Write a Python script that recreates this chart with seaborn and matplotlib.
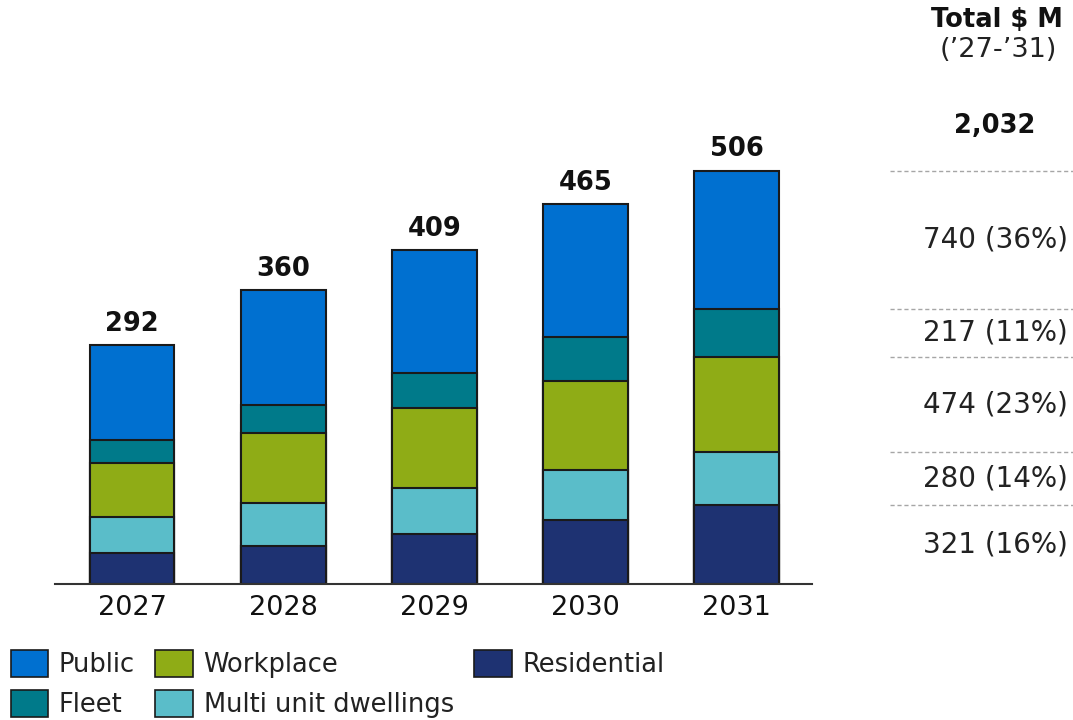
import matplotlib
matplotlib.use("Agg")
import matplotlib.pyplot as plt
import matplotlib.transforms as mtransforms
from matplotlib.patches import Patch
import numpy as np
import pandas as pd
import seaborn as sns

# Annual spend by charger segment, $ M
years = ["2027", "2028", "2029", "2030", "2031"]
categories = ["Public", "Fleet", "Workplace", "Multi unit dwellings", "Residential"]
public = [116, 141, 151, 163, 169]
fleet = [28, 34, 42, 54, 59]
workplace = [66, 86, 98, 108, 116]
multi_unit = [44, 52, 57, 62, 65]
residential = [38, 47, 61, 78, 97]

colors = {
    "Public": "#0070D0",
    "Fleet": "#007A8A",
    "Workplace": "#8FAC16",
    "Multi unit dwellings": "#5ABDC9",
    "Residential": "#1E3272",
}

sns.set_theme(style="white")
plt.rcParams["font.family"] = ["DejaVu Sans"]

df = pd.DataFrame({
    "year": years,
    "Public": public,
    "Fleet": fleet,
    "Workplace": workplace,
    "Multi unit dwellings": multi_unit,
    "Residential": residential,
})

# Stack order from bottom to top
stack_order = ["Residential", "Multi unit dwellings", "Workplace", "Fleet", "Public"]
cum = df[stack_order].cumsum(axis=1)
df["total"] = df[categories].sum(axis=1)

fig = plt.figure(figsize=(10.73, 7.2), dpi=100)
ax = fig.add_axes([0.0513, 0.1889, 0.7055, 0.658])

# Draw cumulative heights from the tallest down so each layer shows as a segment
for cat in reversed(stack_order):
    sns.barplot(
        x=df["year"], y=cum[cat], order=years, color=colors[cat],
        width=0.56, edgecolor="#1a1a1a", linewidth=1.5, saturation=1,
        errorbar=None, ax=ax,
    )

# Year totals above the bars
for i, tot in enumerate(df["total"]):
    ax.annotate(f"{tot:,}", (i, tot), xytext=(0, 6), textcoords="offset points",
                ha="center", va="bottom", fontsize=18.5, fontweight="bold",
                color="#111111")

ax.set_xlim(-0.51, 4.5)
ax.set_ylim(0, 580)
ax.set_xlabel("")
ax.set_ylabel("")
ax.set_yticks([])
ax.tick_params(axis="x", length=0, labelsize=19.5, pad=8, colors="#111111")
for side in ["left", "right", "top"]:
    ax.spines[side].set_visible(False)
ax.spines["bottom"].set_color("#333333")
ax.spines["bottom"].set_linewidth(1.5)

# Five-year totals column, aligned with the 2031 segments
last = cum.iloc[-1]
grand_total = int(df["total"].sum())
trans = mtransforms.blended_transform_factory(fig.transFigure, ax.transData)
bounds = [0] + [last[c] for c in stack_order]
for b in bounds[1:]:
    ax.plot([0.8295, 1.0], [b, b], transform=trans, clip_on=False,
            color="#a6a6a6", linewidth=1.0, linestyle=(0, (3, 2)))
for k, cat in enumerate(stack_order):
    mid = (bounds[k] + bounds[k + 1]) / 2
    val = int(df[cat].sum())
    pct = round(100 * val / grand_total)
    ax.text(0.9953, mid, f"{val} ({pct}%)", transform=trans, ha="right",
            va="center", fontsize=20, color="#222222")

fig.text(0.929, 0.972, "Total $ M", ha="center", va="center", fontsize=18.5,
         fontweight="bold", color="#111111")
fig.text(0.930, 0.931, "(\u201927-\u201931)", ha="center", va="center",
         fontsize=19.5, color="#222222")
fig.text(0.927, 0.825, f"{grand_total:,}", ha="center", va="center",
         fontsize=18.5, fontweight="bold", color="#111111")

handles = [Patch(facecolor=colors[c], edgecolor="#1a1a1a", linewidth=1.2,
                 label=c) for c in categories]
fig.legend(handles=handles, ncol=3, frameon=False, loc="upper left",
           bbox_to_anchor=(0.010, 0.097), fontsize=18.5,
           handlelength=1.45, handleheight=1.25, handletextpad=0.42,
           columnspacing=0.8, labelspacing=0.45, borderaxespad=0,
           borderpad=0, labelcolor="#222222")

fig.savefig("out.png", dpi=100)
